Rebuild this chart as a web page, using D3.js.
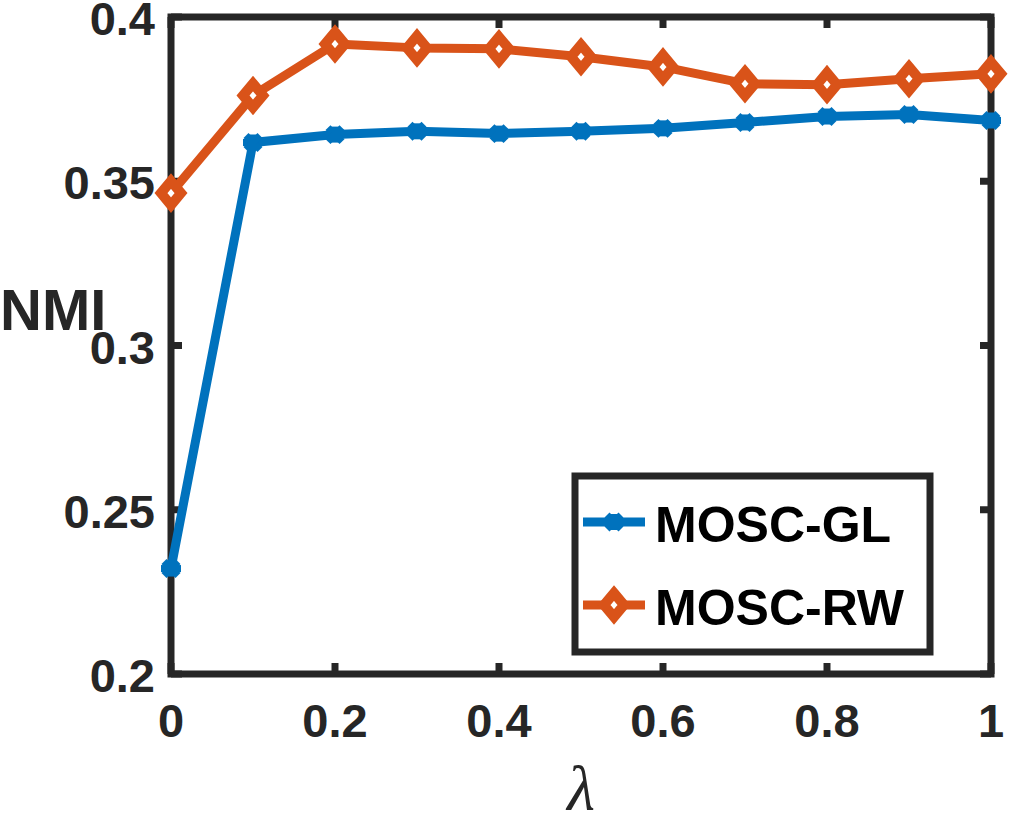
<!DOCTYPE html>
<html>
<head>
<meta charset="utf-8">
<script src="https://cdn.jsdelivr.net/npm/d3@7"></script>
<style>
  body { margin: 0; background: #fff; }
  text { font-family: "Liberation Sans", Arial, sans-serif; font-weight: bold; fill: #262626; }
</style>
</head>
<body>
<div id="chart"></div>
<script>
// data
const lambdas = [0, 0.1, 0.2, 0.3, 0.4, 0.5, 0.6, 0.7, 0.8, 0.9, 1.0];
const nmi_gl = [0.2321, 0.3618, 0.3642, 0.3652, 0.3645, 0.3652, 0.3661, 0.3679, 0.3697, 0.3703, 0.3685];
const nmi_rw = [0.3464, 0.3761, 0.3918, 0.3906, 0.3903, 0.3879, 0.3848, 0.3797, 0.3794, 0.3812, 0.3827];
const xTicks = [0, 0.2, 0.4, 0.6, 0.8, 1];
const yTicks = [0.2, 0.25, 0.3, 0.35, 0.4];
const series_names = ["MOSC-GL", "MOSC-RW"];

const width = 1009, height = 815;
const axisColor = "#262626";
const colors = {"MOSC-GL": "#0072BD", "MOSC-RW": "#D95319"};

const svg = d3.select("#chart").append("svg")
    .attr("width", width)
    .attr("height", height);

const xScale = d3.scaleLinear().domain([0, 1]).range([171, 991]);
const yScale = d3.scaleLinear().domain([0.2, 0.4]).range([674, 17]);

//lines
const line = d3.line()
    .x((d, i) => xScale(lambdas[i]))
    .y(d => yScale(d));

const series = [
    {name: "MOSC-GL", values: nmi_gl},
    {name: "MOSC-RW", values: nmi_rw}
];

function drawMarker(g, name, cx, cy){
    if(name === "MOSC-GL"){
        // asterisk marker, drawn thick
        const s = 10;
        const segs = [[-s, 0, s, 0], [-s*0.7, -s*0.7, s*0.7, s*0.7], [-s*0.7, s*0.7, s*0.7, -s*0.7], [0, -s*0.8, 0, s*0.8]];
        segs.forEach(p => {
            g.append("line")
                .attr("x1", cx + p[0]).attr("y1", cy + p[1])
                .attr("x2", cx + p[2]).attr("y2", cy + p[3])
                .attr("stroke", colors[name])
                .attr("stroke-width", 7);
        });
    } else {
        const w = 10, h = 12;
        g.append("path")
            .attr("d", `M${cx},${cy-h}L${cx+w},${cy}L${cx},${cy+h}L${cx-w},${cy}Z`)
            .attr("fill", "#fff")
            .attr("stroke", colors[name])
            .attr("stroke-width", 10)
            .attr("stroke-linejoin", "miter");
    }
}

//axes box
const axes = svg.append("g");
axes.append("rect")
    .attr("x", xScale(0)).attr("y", yScale(0.4))
    .attr("width", xScale(1) - xScale(0))
    .attr("height", yScale(0.2) - yScale(0.4))
    .attr("fill", "none")
    .attr("stroke", axisColor)
    .attr("stroke-width", 7);

const tickLen = 11;
xTicks.forEach(t => {
    const x = xScale(t);
    axes.append("line").attr("x1", x).attr("x2", x)
        .attr("y1", yScale(0.2)).attr("y2", yScale(0.2) - tickLen)
        .attr("stroke", axisColor).attr("stroke-width", 7);
    axes.append("line").attr("x1", x).attr("x2", x)
        .attr("y1", yScale(0.4)).attr("y2", yScale(0.4) + tickLen)
        .attr("stroke", axisColor).attr("stroke-width", 7);
    axes.append("text")
        .attr("x", x).attr("y", 737)
        .attr("text-anchor", "middle")
        .attr("font-size", 47)
        .text(d3.format("")(t));
});
yTicks.forEach(t => {
    const y = yScale(t);
    axes.append("line").attr("x1", xScale(0)).attr("x2", xScale(0) + tickLen)
        .attr("y1", y).attr("y2", y)
        .attr("stroke", axisColor).attr("stroke-width", 7);
    axes.append("line").attr("x1", xScale(1)).attr("x2", xScale(1) - tickLen)
        .attr("y1", y).attr("y2", y)
        .attr("stroke", axisColor).attr("stroke-width", 7);
    axes.append("text")
        .attr("x", 155).attr("y", y + 18)
        .attr("text-anchor", "end")
        .attr("font-size", 47)
        .text(d3.format("")(t));
});

//axis labels
svg.append("text")
    .attr("x", 0).attr("y", 330)
    .attr("font-size", 58)
    .text("NMI");

svg.append("text")
    .attr("x", 581).attr("y", 810)
    .attr("text-anchor", "middle")
    .attr("font-size", 64)
    .style("font-family", "'Liberation Serif', 'Times New Roman', serif")
    .style("font-style", "italic")
    .style("font-weight", "normal")
    .text("λ");

//data
const dataG = svg.append("g");
series.forEach(s => {
    dataG.append("path")
        .datum(s.values)
        .attr("d", line)
        .attr("fill", "none")
        .attr("stroke", colors[s.name])
        .attr("stroke-width", 9)
        .attr("stroke-linejoin", "round");
    s.values.forEach((v, i) => drawMarker(dataG, s.name, xScale(lambdas[i]), yScale(v)));
});

//legend
const legend = svg.append("g");
legend.append("rect")
    .attr("x", 575).attr("y", 476)
    .attr("width", 355).attr("height", 176)
    .attr("fill", "#fff")
    .attr("stroke", axisColor)
    .attr("stroke-width", 7);

series_names.forEach((name, i) => {
    const y = 522 + i * 83;
    legend.append("line")
        .attr("x1", 583).attr("x2", 645)
        .attr("y1", y).attr("y2", y)
        .attr("stroke", colors[name])
        .attr("stroke-width", 9);
    drawMarker(legend, name, 614, y);
    legend.append("text")
        .attr("x", 655).attr("y", y + 20)
        .attr("font-size", 50)
        .style("fill", "#000")
        .text(name);
});
</script>
</body>
</html>
